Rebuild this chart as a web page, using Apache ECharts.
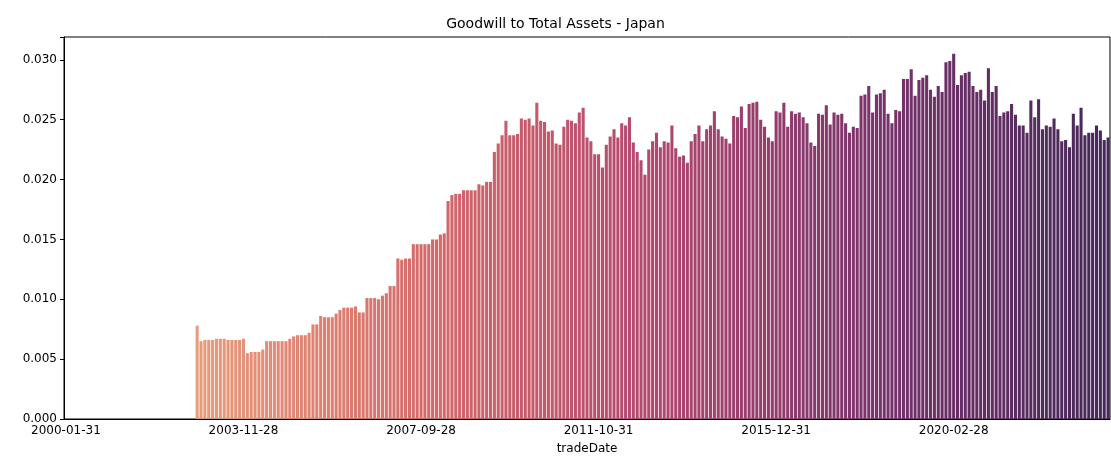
<!DOCTYPE html>
<html><head><meta charset="utf-8">
<script src="https://cdn.jsdelivr.net/npm/echarts@6/dist/echarts.min.js"></script>
<style>html,body{margin:0;padding:0;background:#fff}#c{width:1111px;height:466px}</style>
</head><body><div id="c"></div>
<script>
const leadingEmpty = 34;
const values = [
0.0078,0.0065,0.0066,0.0066,0.0066,0.0067,0.0067,0.0067,0.0066,0.0066,0.0066,0.0066,0.0067,
0.0055,0.0056,0.0056,0.0056,0.0058,
0.0065,0.0065,0.0065,0.0065,0.0065,0.0065,0.0067,0.0069,0.0070,0.0070,0.0070,0.0072,
0.0079,0.0079,
0.0086,0.0085,0.0085,0.0085,0.0088,0.0091,0.0093,0.0093,0.0093,0.0094,0.0089,0.0089,
0.0101,0.0101,0.0101,0.0100,0.0103,0.0105,0.0111,0.0111,
0.0134,0.0133,0.0134,0.0134,0.0146,0.0146,0.0146,0.0146,0.0146,0.0150,0.0150,0.0154,0.0155,
0.0182,0.0187,0.0188,0.0188,0.0191,0.0191,0.0191,0.0191,0.0196,0.0195,0.0198,0.0198,
0.0223,0.0230,0.0237,0.0249,0.0237,0.0237,0.0238,0.0251,0.0250,
0.0251,0.0245,0.0264,0.0249,0.0248,0.0240,0.0241,0.0230,0.0229,0.0244,
0.0250,0.0249,0.0247,0.0256,0.0260,0.0235,0.0232,0.0221,0.0221,0.0210,
0.0229,0.0236,0.0242,0.0235,0.0247,0.0245,0.0252,0.0231,0.0223,0.0216,
0.0204,0.0225,0.0232,0.0239,0.0227,0.0232,0.0231,0.0245,0.0226,0.0219,
0.0220,0.0214,0.0232,0.0238,0.0245,0.0232,0.0242,0.0245,0.0257,0.0242,
0.0236,0.0234,0.0230,
0.0253,0.0252,0.0261,0.0243,0.0263,0.0264,0.0265,0.0250,0.0244,0.0235,
0.0232,0.0257,0.0256,0.0264,0.0244,0.0257,0.0255,0.0256,0.0252,0.0247,
0.0231,0.0228,0.0255,0.0254,0.0262,0.0246,0.0256,0.0254,0.0255,0.0247,
0.0239,0.0244,0.0243,0.0270,0.0271,0.0278,0.0256,0.0271,0.0272,0.0275,
0.0255,0.0247,0.0258,0.0257,0.0284,0.0284,0.0292,0.0270,0.0283,
0.0285,0.0287,0.0275,0.0269,0.0278,0.0273,0.0298,0.0299,0.0305,0.0279,
0.0287,0.0289,0.0290,0.0278,0.0273,0.0275,0.0266,0.0293,0.0273,0.0278,
0.0253,0.0256,0.0257,0.0263,0.0254,0.0245,0.0245,0.0239,0.0266,0.0252,
0.0267,0.0242,0.0245,0.0244,0.0251,0.0242,0.0232,0.0233,0.0227,0.0255,
0.0245,0.0260,0.0237,0.0239,0.0239,0.0245,0.0241,0.0233,0.0235
];
const tickLabels = ['2000-01-31','2003-11-28','2007-09-28','2011-10-31','2015-12-31','2020-02-28'];
const tickStep = 46;

const data = new Array(leadingEmpty).fill(null).concat(values);
const cats = data.map((_, i) => i);
const stops = [[232,156,124],[214,105,105],[178,72,110],[120,50,108],[70,40,88]];
function colorAt(t){
  const p = t*(stops.length-1), i = Math.min(Math.floor(p), stops.length-2), f = p-i;
  const c = stops[i].map((v,k)=>Math.round(v+(stops[i+1][k]-v)*f));
  return `rgb(${c.join(',')})`;
}
const n = data.length;
const chart = echarts.init(document.getElementById('c'));
const F = 'DejaVu Sans';
chart.setOption({
  animation:false,
  title:{text:'Goodwill to Total Assets - Japan',left:'center',top:12,textStyle:{fontFamily:F,fontSize:14,fontWeight:'normal',color:'#000'}},
  grid:{left:64,right:1,top:37,bottom:47,show:true,borderColor:'#000',borderWidth:1},
  xAxis:{type:'category',data:cats,name:'tradeDate',nameLocation:'middle',nameGap:24,
    nameTextStyle:{fontFamily:F,fontSize:12,color:'#000'},
    axisLine:{lineStyle:{color:'#000'}},
    axisTick:{alignWithLabel:true,interval:(i)=>i%tickStep===0,lineStyle:{color:'#000'},length:4},
    axisLabel:{interval:(i)=>i%tickStep===0,formatter:(v)=>tickLabels[Math.round(v/tickStep)]||'',fontFamily:F,fontSize:12,color:'#000',margin:6}},
  yAxis:{type:'value',min:0,max:0.0319,interval:0.005,splitLine:{show:false},
    axisLine:{show:true,lineStyle:{color:'#000'}},axisTick:{show:true,length:4,lineStyle:{color:'#000'}},
    axisLabel:{formatter:(v)=>v>0.0301?'':v.toFixed(3),fontFamily:F,fontSize:12,color:'#000',margin:7},
    },
  series:[{type:'bar',barCategoryGap:'20%',
    data:data.map((v,i)=>({value:v,itemStyle:{color:colorAt(Math.max(0,i-leadingEmpty)/(n-leadingEmpty-1))}}))}]
});
</script></body></html>
